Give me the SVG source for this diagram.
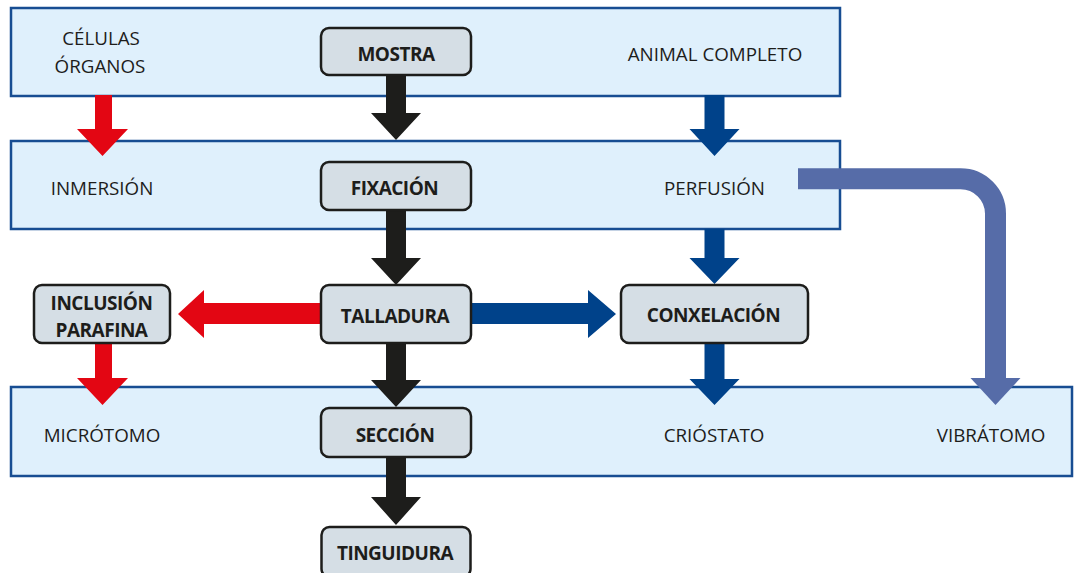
<svg xmlns="http://www.w3.org/2000/svg" width="1074" height="573" viewBox="0 0 1074 573">
<style>
.band{fill:#dff0fc;stroke:#174d92;stroke-width:2.5}
.box{fill:#d5dee5;stroke:#1d1d1b;stroke-width:2.5}
.lbl{font-family:"Open Sans","Liberation Sans",sans-serif;font-size:18.8px;fill:#1d1d1b;text-anchor:middle}
.blbl{font-family:"Open Sans","Liberation Sans",sans-serif;font-size:19px;letter-spacing:-0.5px;font-weight:bold;fill:#1d1d1b;text-anchor:middle}
.red{fill:#e30613}
.blk{fill:#1d1d1b}
.blu{fill:#00428a}
.lav{fill:#566ca8}
</style>
<rect width="1074" height="573" fill="#ffffff"/>
<g id="bands">
<rect id="band-mostra" class="band" x="11" y="8" width="829" height="88"/>
<rect id="band-fixacion" class="band" x="11" y="141" width="829" height="88"/>
<rect id="band-seccion" class="band" x="11" y="387" width="1061" height="89"/>
</g>
<g id="connectors">
<polygon class="red" points="95,95 112,95 112,129 128,129 102.5,156 77,129 95,129"/>
<polygon class="blk" points="386,74 406,74 406,113 421,113 396,140 371,113 386,113"/>
<polygon class="blu" points="704.5,95 724.5,95 724.5,129 739.5,129 714.5,156 689.5,129 704.5,129"/>
<polygon class="blk" points="386,209 406,209 406,258 421,258 396,285 371,258 386,258"/>
<polygon class="blu" points="704.5,229 724.5,229 724.5,258 739.5,258 714.5,284 689.5,258 704.5,258"/>
<polygon class="red" points="322,303 204,303 204,290 178,314 204,338 204,324 322,324"/>
<polygon class="blu" points="470,303 588,303 588,290 616,314 588,338 588,324 470,324"/>
<polygon class="red" points="95,342 112,342 112,378 128,378 102.5,405 77,378 95,378"/>
<polygon class="blk" points="386,342 406,342 406,380 421,380 396,407 371,380 386,380"/>
<polygon class="blu" points="704.5,342 724.5,342 724.5,379 739.5,379 714.5,405 689.5,379 704.5,379"/>
<polygon class="blk" points="386,456 406,456 406,497 421,497 396,525 371,497 386,497"/>
<path d="M798,178.7 H960.5 A35,35 0 0 1 995.5,213.7 V379" fill="none" stroke="#566ca8" stroke-width="21"/>
<polygon class="lav" points="970.5,378 1020.5,378 995.5,405"/>
</g>
<g id="n-celulas"><text class="lbl" x="101" y="45">CÉLULAS</text><text class="lbl" x="100" y="72.5">ÓRGANOS</text></g>
<g id="n-mostra"><rect class="box" x="321" y="28" width="150" height="47" rx="8"/><text class="blbl" x="396" y="61">MOSTRA</text></g>
<g id="n-animal"><text class="lbl" x="715" y="61">ANIMAL COMPLETO</text></g>
<g id="n-inmersion"><text class="lbl" x="102" y="195">INMERSIÓN</text></g>
<g id="n-fixacion"><rect class="box" x="321" y="162" width="150" height="48" rx="8"/><text class="blbl" x="394.5" y="195">FIXACIÓN</text></g>
<g id="n-perfusion"><text class="lbl" x="714.5" y="195">PERFUSIÓN</text></g>
<g id="n-inclusion"><rect class="box" x="34" y="285" width="136" height="58" rx="8"/><text class="blbl" x="101.5" y="309.5">INCLUSIÓN</text><text class="blbl" x="101.5" y="337">PARAFINA</text></g>
<g id="n-talladura"><rect class="box" x="321" y="285" width="150" height="58" rx="8"/><text class="blbl" x="395" y="323">TALLADURA</text></g>
<g id="n-conxelacion"><rect class="box" x="621" y="285" width="187" height="58" rx="8"/><text class="blbl" x="713.5" y="322">CONXELACIÓN</text></g>
<g id="n-microtomo"><text class="lbl" x="102" y="442">MICRÓTOMO</text></g>
<g id="n-seccion"><rect class="box" x="321" y="408" width="150" height="49" rx="8"/><text class="blbl" x="395" y="442">SECCIÓN</text></g>
<g id="n-criostato"><text class="lbl" x="714" y="442">CRIÓSTATO</text></g>
<g id="n-vibratomo"><text class="lbl" x="991" y="442">VIBRÁTOMO</text></g>
<g id="n-tinguidura"><rect class="box" x="321.5" y="527" width="149" height="50" rx="8"/><text class="blbl" x="395" y="560">TINGUIDURA</text></g>
</svg>
